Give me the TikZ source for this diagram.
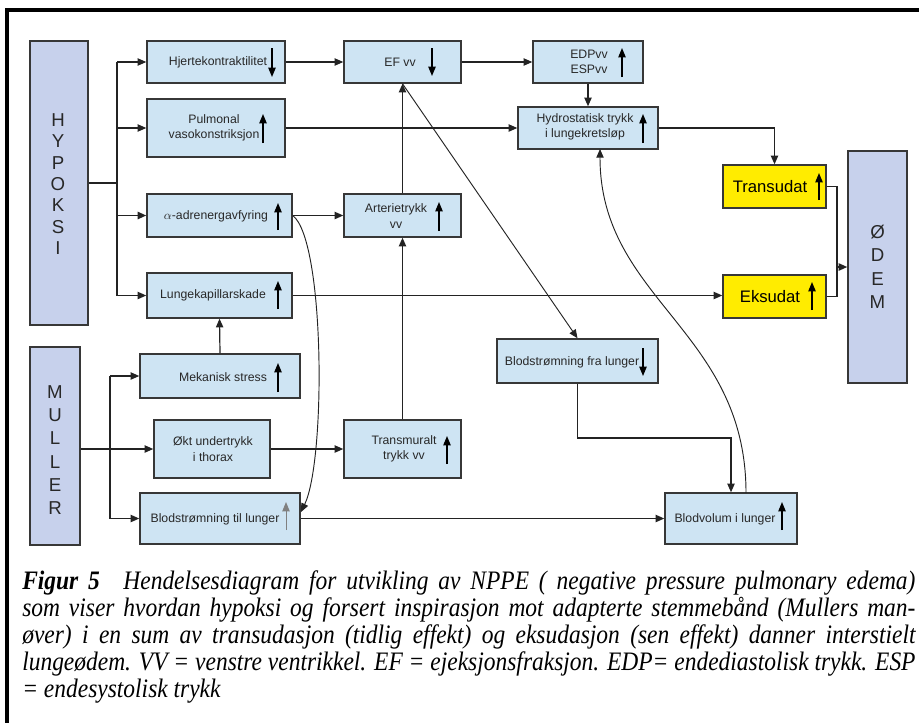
\documentclass[tikz,border=0pt]{standalone}
\usepackage{fontspec}
\setmainfont{Liberation Serif}
\newfontfamily\sansf{Liberation Sans}
\usetikzlibrary{arrows.meta,fit}
\newlength\pxu \setlength\pxu{0.75pt}
\definecolor{boxblue}{RGB}{206,228,243}
\definecolor{lav}{RGB}{199,209,236}
\definecolor{yel}{RGB}{255,236,0}
\definecolor{bordc}{RGB}{55,55,55}
\definecolor{linec}{RGB}{35,35,35}
\definecolor{txtc}{RGB}{40,40,40}
\newcommand{\capline}[1]{\scalebox{0.88}[1]{\makebox[1015\pxu][s]{#1}}}
\begin{document}
\begin{tikzpicture}[x=0.75pt,y=-0.75pt,
  bbox/.style={draw=bordc, line width=1.1pt, fill=boxblue, inner sep=0pt},
  lbox/.style={bbox, fill=lav},
  ybox/.style={bbox, fill=yel},
  btxt/.style={font=\sansf\fontsize{9.2}{11.5}\selectfont, text=txtc, align=center, inner sep=0pt},
  ytxt/.style={font=\sansf\fontsize{12.5}{14}\selectfont, text=black, inner sep=0pt},
  bigtxt/.style={font=\sansf\fontsize{14}{16}\selectfont, text=txtc, align=center, inner sep=0pt},
  conn/.style={draw=linec, line width=0.9pt, -{Triangle[length=6.5pt,width=5.5pt]}},
  plainline/.style={draw=linec, line width=0.9pt},
  uarr/.style={draw=black, line width=1pt, -{Triangle[length=7pt,width=5.5pt]}},
  captxt/.style={font=\itshape\fontsize{20}{22}\selectfont, inner sep=0pt, anchor=base west}
]
\useasboundingbox (0,0) rectangle (919,722);
% frame
\draw[line width=2.3pt, line cap=rect] (7,722) -- (7,10) -- (919,10);

% lavender blocks
\node[lbox, fit={(30,41) (88,325)}] (hyp) {};
\node[bigtxt] (hyp-t) at (58,184) {H\\Y\\P\\O\\K\\S\\I};
\node[lbox, fit={(30,347) (80,545)}] (mul) {};
\node[bigtxt, font=\sansf\fontsize{14}{17.4}\selectfont] (mul-t) at (55,450) {M\\U\\L\\L\\E\\R};
\node[lbox, fit={(848,151) (907,383)}] (odem) {};
\node[bigtxt, font=\sansf\fontsize{14}{17.6}\selectfont] (odem-t) at (877.5,267) {Ø\\D\\E\\M};

% blue boxes
\node[bbox, fit={(147,41) (285,83)}] (hj) {};
\node[btxt] (hj-t) at (218,62) {Hjertekontraktilitet};
\draw[uarr] (272,48) -- (272,77);

\node[bbox, fit={(147,99) (285,157)}] (pul) {};
\node[btxt] (pul-t) at (214,128) {Pulmonal\\vasokonstriksjon};
\draw[uarr] (263,143) -- (263,114);

\node[bbox, fit={(147,194) (292,237)}] (alpha) {};
\node[btxt] (alpha-t) at (216,216) {$\alpha$-adrenergavfyring};
\draw[uarr] (278,230) -- (278,203);

\node[bbox, fit={(147,273) (292,318)}] (lkap) {};
\node[btxt] (lkap-t) at (213,295) {Lungekapillarskade};
\draw[uarr] (278,309) -- (278,281);

\node[bbox, fit={(140,354) (300,398)}] (mek) {};
\node[btxt] (mek-t) at (223,377) {Mekanisk stress};
\draw[uarr] (278,392) -- (278,363);

\node[bbox, fit={(154,420) (270,478)}] (okt) {};
\node[btxt] (okt-t) at (213,449) {Økt undertrykk\\i thorax};

\node[bbox, fit={(140,493) (300,544)}] (bt) {};
\node[btxt] (bt-t) at (215,519) {Blodstrømning til lunger};
\draw[uarr, draw=gray, line width=0.7pt] (286,530) -- (286,502);

\node[bbox, fit={(344,41) (461,83)}] (ef) {};
\node[btxt] (ef-t) at (400,62) {EF vv};
\draw[uarr] (432,48) -- (432,76);

\node[bbox, fit={(533,41) (643,83)}] (edp) {};
\node[btxt] (edp-t) at (589,62) {EDPvv\\ESPvv};
\draw[uarr] (622,77) -- (622,48);

\node[bbox, fit={(518,107) (658,149)}] (hyd) {};
\node[btxt] (hyd-t) at (585,127) {Hydrostatisk trykk\\i lungekretsløp};
\draw[uarr] (643,143) -- (643,114);

\node[bbox, fit={(344,194) (461,237)}] (art) {};
\node[btxt] (art-t) at (396,216) {Arterietrykk\\vv};
\draw[uarr] (439,231) -- (439,202);

\node[bbox, fit={(344,420) (461,478)}] (tra) {};
\node[btxt] (tra-t) at (404,449) {Transmuralt\\trykk vv};
\draw[uarr] (447,464) -- (447,436);

\node[bbox, fit={(497,339) (658,383)}] (bfl) {};
\node[btxt] (bfl-t) at (572,362) {Blodstrømning fra lunger};
\draw[uarr] (643,348) -- (643,376);

\node[bbox, fit={(665,493) (797,544)}] (bvol) {};
\node[btxt] (bvol-t) at (725,519) {Blodvolum i lunger};
\draw[uarr] (782,530) -- (782,502);

% yellow boxes
\node[ybox, fit={(723,165) (826,208)}] (tsu) {};
\node[ytxt] (tsu-t) at (770,187) {Transudat};
\draw[uarr] (819,200) -- (819,173);
\node[ybox, fit={(723,275) (826,318)}] (eks) {};
\node[ytxt] (eks-t) at (770,297) {Eksudat};
\draw[uarr] (812,310) -- (812,282);

% HYPOKSI branches
\coordinate (hb) at (117,183);
\draw[plainline, line width=1.3pt] (hyp.east |- hb) -- (hb);
\draw[plainline] (hb |- hj) -- (hb |- lkap);
\draw[conn] (hb |- hj) -- (hj.west);
\draw[conn] (hb |- pul) -- (pul.west);
\draw[conn, line width=1.3pt] (hb |- alpha) -- (alpha.west);
\draw[conn] (hb |- lkap) -- (lkap.west);

% MULLER branches
\coordinate (mb) at (110,449);
\draw[conn] (mul.east |- okt) -- (okt.west);
\draw[plainline] (mb |- mek) -- (mb |- bt);
\draw[conn] (mb |- mek) -- (mek.west);
\draw[conn] (mb |- bt) -- (bt.west);

% main connectors
\draw[conn] (hj.east) -- (ef.west);
\draw[conn] (ef.east) -- (edp.west);
\draw[conn] (edp.south) -- (hyd.north);
\draw[conn] (pul.east) -- (hyd.west);
\draw[conn] (hyd.east) -| (tsu.north);
\coordinate (oj) at (837,267);
\draw[plainline, line width=1.2pt] (tsu.east) -| (oj);
\draw[plainline, line width=1.2pt] (eks.east) -| (oj);
\draw[conn, line width=1.2pt] (oj) -- (odem.west);
\draw[conn] (alpha.east) -- (art.west);
\draw[conn] (art.north) -- (ef.south);
\draw[conn] (tra.north) -- (art.south);
\draw[conn] (okt.east) -- (tra.west);
\draw[conn] (lkap.east) -- (eks.west |- lkap.east);
\draw[conn] (mek.north) -- (lkap.south);
\draw[conn] (bt.east) -- (bvol.west);
\coordinate (bk) at (731,438);
\draw[conn] (bfl.south) |- (bk) -- (bvol.north);
\draw[conn, line width=0.7pt] (ef.south) -- (bfl.north);
\coordinate (bvs) at (746,493);
\coordinate (hys) at (600,149);
\draw[conn, line width=0.7pt] (bvs) .. controls (746,330) and (600,300) .. (hys);
\coordinate (bte) at (301,512);
\draw[conn, line width=0.7pt] (alpha.east) .. controls (325,240) and (326,460) .. (bte);

% caption
\node[captxt] (c1) at (22,589) {\capline{\textbf{Figur 5}\hspace{1em}Hendelsesdiagram for utvikling av NPPE ( negative pressure pulmonary edema)}};
\node[captxt] (c2) at (22,616) {\capline{som viser hvordan hypoksi og forsert inspirasjon mot adapterte stemmebånd (Mullers man-}};
\node[captxt] (c3) at (22,643) {\capline{øver) i en sum av transudasjon (tidlig effekt) og eksudasjon (sen effekt) danner interstielt}};
\node[captxt] (c4) at (22,670) {\capline{lungeødem. VV = venstre ventrikkel. EF = ejeksjonsfraksjon. EDP= endediastolisk trykk. ESP}};
\node[captxt] (c5) at (22,697) {\scalebox{0.88}[1]{= endesystolisk trykk}};
\end{tikzpicture}
\end{document}
